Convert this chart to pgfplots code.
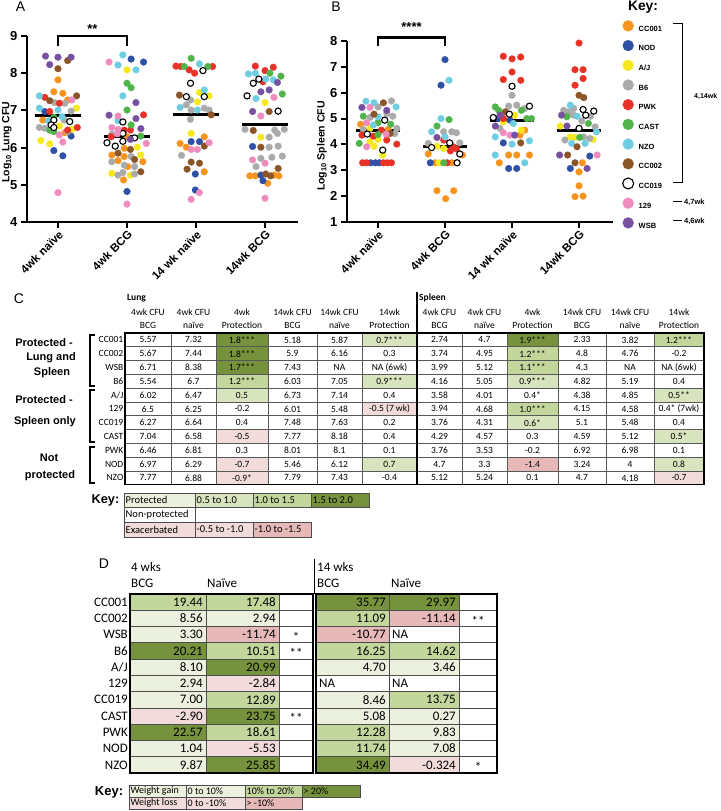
\documentclass[border=0pt]{standalone}
\usepackage{pgfplots}
\pgfplotsset{compat=1.18}
\usepackage{fontspec}
\setmainfont{Liberation Sans}
\newfontfamily\calf{Carlito}
\definecolor{cCC001}{RGB}{247,148,29}
\definecolor{cNOD}{RGB}{46,80,165}
\definecolor{cAJ}{RGB}{245,233,30}
\definecolor{cB6}{RGB}{170,170,170}
\definecolor{cPWK}{RGB}{232,50,40}
\definecolor{cCAST}{RGB}{80,180,75}
\definecolor{cNZO}{RGB}{110,205,225}
\definecolor{cCC002}{RGB}{140,85,40}
\definecolor{c129}{RGB}{238,140,190}
\definecolor{cWSB}{RGB}{120,80,160}
\definecolor{gD}{RGB}{118,146,60}
\definecolor{gM}{RGB}{195,214,155}
\definecolor{gL}{RGB}{215,228,189}
\definecolor{gP}{RGB}{235,241,222}
\definecolor{pL}{RGB}{242,220,219}
\definecolor{pM}{RGB}{230,185,184}
\pgfplotsset{
 pt/.style={only marks, mark=*, mark size=3.4pt, color=#1, mark options={fill=#1, draw=#1, line width=0.2pt}},
 ptw/.style={only marks, mark=*, mark size=3.1pt, color=black, mark options={fill=white, draw=black, line width=1.1pt}},
 scat/.style={scale only axis, anchor=south west,
  axis lines=left, axis line style={line width=2pt,-},
  every tick/.style={black,line width=2pt}, major tick length=6pt, tick align=outside,
  xtick={0,1,2,3}, xticklabels={4wk naïve,4wk BCG,14 wk naïve,14wk BCG},
  xticklabel style={rotate=45, anchor=north east, font=\bfseries\fontsize{11.5}{12}\selectfont, inner sep=1pt},
  yticklabel style={font=\bfseries\fontsize{13}{13}\selectfont},
  /pgf/number format/assume math mode=true,
  clip=false},
}
\def\CX{{125,171,216,268,317,362,417,462,507,558,606,654,704}}
\def\DX{{130,206,279,313,316,389,459,497}}
\newcommand\colC[1]{\pgfmathsetmacro\xa{\CX[#1-1]}\pgfmathsetmacro\xb{\CX[#1]}\pgfmathsetmacro\xc{0.5*\xa+0.5*\xb}}
\newcommand\colD[1]{\pgfmathsetmacro\xa{\DX[#1]}\pgfmathsetmacro\xb{\DX[#1+1]}\pgfmathsetmacro\xc{0.5*\xa+0.5*\xb}}
\newcommand\cc[3]{\colC{#1}%
  \node[font=\calf\fontsize{9.5}{10}\selectfont, inner sep=0pt] at (\xc,{471.1-13.8*#2}) {#3};}
\newcommand\dc[3]{\colD{#1}%
  \node[font=\calf\fontsize{13}{13}\selectfont, inner sep=0pt, anchor=east] at ({\xb-3},{217-16.27*(#2+0.5)}) {#3};}
\newcommand\dn[2]{\colD{#1}%
  \node[font=\calf\fontsize{13}{13}\selectfont, inner sep=0pt, anchor=west] at ({\xa+3},{217-16.27*(#2+0.5)}) {NA};}
\newcommand\ds[3]{\colD{#1}%
  \node[font=\calf\fontsize{13}{13}\selectfont, inner sep=0pt] at (\xc,{217-16.27*(#2+0.5)-2}) {#3};}
\begin{document}
\begin{tikzpicture}[x=1pt,y=1pt]
\path[use as bounding box] (0,0) rectangle (720,811);
\node[font=\fontsize{14}{14}\selectfont] at (20.5,804) {A};
\node[font=\fontsize{14}{14}\selectfont] at (336,804) {B};
\node[font=\fontsize{14}{14}\selectfont] at (19,512) {C};
\node[font=\fontsize{14}{14}\selectfont] at (104,247) {D};
% ---------------- Panel A
\begin{axis}[scat, at={(27pt,589pt)}, width=271pt, height=186pt,
  xmin=-0.449, xmax=3.478, ymin=4, ymax=9, ytick={4,5,6,7,8,9},
  ylabel={Log\textsubscript{10} Lung CFU},
  ylabel style={font=\bfseries\fontsize{10.5}{12}\selectfont, at={(axis description cs:-0.074,0.43)}, anchor=center, rotate=0}]
\addplot[pt=cCC001] coordinates {(0,7.82)(-0.06,7.50)(0.07,7.46)(0.14,7.28)(-0.22,6.74)(0.10,6.40)
 (1,6.29)(0.96,5.98)(0.78,5.80)(0.96,5.76)(0.87,5.65)(1.01,5.49)(1.23,5.62)(0.95,5.13)
 (1.77,6.11)(2.12,6.29)(1.86,6.01)(2.12,5.35)
 (2.78,5.24)(2.86,5.24)(3.13,5.26)(3.20,5.24)(3.04,5.04)};
\addplot[pt=cNOD] coordinates {(-0.19,6.97)(0.19,6.31)(-0.06,5.92)(0.07,5.78)
 (1.06,8.38)(1.24,8.30)(1,4.82)
 (1.93,6.16)(2.05,6.16)(1.99,5.29)(1.99,4.86)
 (2.82,6.03)(2.94,5.26)(2.97,5.11)};
\addplot[pt=cAJ] coordinates {(0.27,7.06)(0.02,6.58)(0.20,6.49)(-0.25,6.19)(-0.12,6.10)
 (1,8.09)(1.15,6.01)(1.20,5.80)(0.78,5.31)(1.05,5.26)
 (2.05,7.48)(2.19,7.39)(2.02,7.23)(1.93,6.38)
 (3,7.21)(2.94,6.28)};
\addplot[pt=cB6] coordinates {(-0.05,7.21)(0.10,7.19)(0.19,6.98)(0.09,6.74)(-0.27,6.54)(-0.19,6.52)(0.14,6.43)
 (0.78,6.36)(1.06,5.76)(0.78,5.62)(0.96,5.53)(1.11,5.49)(0.87,5.26)(0.94,5.33)(1.11,5.29)
 (1.92,7.28)(1.86,7.15)(1.93,7.01)(2.12,7.06)(2.19,7.01)(1.92,6.76)(1.79,5.79)
 (2.71,6.49)(3.14,6.47)(3.28,6.49)(3.06,6.28)(3.18,6.38)(3.06,6.01)(3.19,6.04)(3.25,5.77)(2.94,5.71)(3.10,5.74)(2.87,5.49)};
\addplot[pt=cPWK] coordinates {(-0.19,7.35)(0.02,7.19)(-0.12,6.97)(0.14,6.47)(0.28,6.54)
 (1.24,6.88)(0.96,6.47)(1.05,6.47)(0.77,6.29)
 (1.71,8.19)(1.78,8.18)(1.90,8.09)(1.98,8.00)(2.24,8.18)
 (2.86,8.19)(3,8.07)(3.12,8.16)(2.97,7.77)};
\addplot[pt=cCAST] coordinates {(-0.06,6.81)(-0.12,6.47)(-0.06,6.43)
 (1,7.73)(1.06,7.61)(1,7.01)(1.06,6.61)(1.20,6.31)
 (1.93,8.40)(1.83,8.18)(2.17,8.18)
 (3.07,8.00)(3.23,7.92)(3.25,7.44)};
\addplot[pt=cNZO] coordinates {(-0.27,7.39)(-0.27,7.06)(0,7.01)(0.06,6.83)(-0.14,6.72)
 (0.94,8.49)(0.87,8.22)(1.13,8.09)(0.94,7.39)(0.87,6.72)
 (2.05,8.25)(2.12,7.55)(1.77,7.08)(2.02,7.01)
 (2.76,7.98)(2.86,8.00)(3.01,7.84)(3.12,7.82)(2.87,7.32)};
\addplot[pt=cCC002] coordinates {(0.14,8.34)(0,8.12)(-0.12,7.26)(0.27,7.39)
 (1.05,5.95)(0.87,5.85)(1.11,5.68)(1.20,5.35)
 (1.76,7.41)(2.22,6.88)(2.12,6.04)(1.93,5.61)(2.05,5.58)(1.87,5.42)
 (3.06,6.97)(2.83,6.46)(2.94,6.01)(3.19,5.44)(3.01,5.29)(3.08,5.24)};
\addplot[ptw] coordinates {(-0.06,6.74)(0.17,6.70)(-0.10,6.61)(-0.06,6.54)
 (0.94,6.69)(0.94,6.38)(0.94,6.17)(1.11,6.26)(0.71,6.13)(0.83,6.04)
 (2.10,8.07)(1.92,7.73)(1.86,7.37)(2.12,7.37)
 (2.91,7.84)(2.83,7.73)(2.74,7.39)(3.19,6.98)};
\addplot[pt=c129] coordinates {(0.20,7.28)(0.02,6.34)(0.07,6.15)(0,4.79)
 (0.74,8.30)(0.87,6.85)(0.78,6.54)(0.87,6.49)(0.86,6.37)(1.28,6.11)(1,4.48)
 (2.19,6.13)(1.93,5.95)(2.02,5.95)(2.05,4.79)(1.93,4.61)
 (3.13,7.35)(2.94,6.85)(2.82,5.67)(3,5.58)(3,4.64)};
\addplot[pt=cWSB] coordinates {(-0.18,8.46)(0,8.43)(0.19,8.43)(-0.12,8.23)
 (1.13,7.21)(0.74,6.87)(1.13,6.78)(1.20,6.51)(1.05,6.22)
 (3.18,7.75)(2.94,7.50)(3.06,7.55)(2.82,6.97)};
\addplot[black, line width=3pt, forget plot] coordinates {(-0.33,6.86)(0.33,6.86)};
\addplot[black, line width=3pt, forget plot] coordinates {(0.67,6.31)(1.33,6.31)};
\addplot[black, line width=3pt, forget plot] coordinates {(1.67,6.88)(2.33,6.88)};
\addplot[black, line width=3pt, forget plot] coordinates {(2.67,6.63)(3.33,6.63)};
\addplot[black, line width=2.5pt, forget plot] coordinates {(0,8.72)(0,9)(1,9)(1,8.72)};
\node[font=\bfseries\fontsize{13}{13}\selectfont] at (axis cs:0.5,9.2) {**};
\end{axis}
% ---------------- Panel B
\begin{axis}[scat, at={(347pt,589pt)}, width=266pt, height=181pt,
  xmin=-0.463, xmax=3.507, ymin=1, ymax=8, ytick={1,2,3,4,5,6,7,8},
  ylabel={Log\textsubscript{10} Spleen CFU},
  ylabel style={font=\bfseries\fontsize{10.5}{12}\selectfont, at={(axis description cs:-0.094,0.42)}, anchor=center, rotate=0},
  legend style={at={(1.0357,1.115)}, anchor=north west, draw=none, fill=none,
   font=\bfseries\fontsize{7.5}{8}\selectfont, row sep=8.0pt, column sep=5pt, inner sep=0pt,
   nodes={inner sep=0pt, text height=6pt, text depth=1pt}},
  legend cell align=left,
  legend image code/.code={\draw[#1, mark size=5.5pt] plot coordinates {(0pt,2.7pt)};}]
\addplot[pt=cCC001] coordinates {(-0.26,4.78)(0.15,4.58)
 (0.75,3.63)(1.26,3.59)(0.85,3.29)(1.10,3.29)(0.88,2.21)(1.01,1.90)(1.13,2.21)
 (2.12,4.36)(2.19,4.55)(1.95,3.59)(2.07,3.59)(2.26,3.59)(1.81,3.29)
 (3.05,3.29)(3,2.94)(3,2.40)(2.94,1.98)(3.06,2.00)};
\addlegendentry{CC001}
\addplot[pt=cNOD] coordinates {(-0.11,3.29)(-0.04,3.29)(0.02,3.29)
 (1,7.28)(0.94,6.29)(0.78,3.29)
 (1.80,5.00)(1.97,4.94)(1.87,4.06)(1.95,3.07)(2.07,3.07)
 (3.16,3.55)(2.87,3.07)};
\addlegendentry{NOD}
\addplot[pt=cAJ] coordinates {(-0.12,4.62)(-0.12,4.10)(0,4.19)(-0.06,3.93)(0.07,3.59)
 (0.88,3.93)(0.98,3.84)(0.91,3.29)
 (2.04,5.13)(1.87,4.87)(2.14,4.55)
 (2.72,4.71)(2.87,4.29)(2.94,4.27)(3.21,4.19)};
\addlegendentry{A/J}
\addplot[pt=cB6] coordinates {(0.20,5.68)(0,5.45)(-0.12,5.04)(0.13,5.20)(0.22,5.09)(-0.22,4.58)(0.28,4.62)(0.25,4.42)
 (0.98,4.49)(1.10,4.49)(1.17,4.45)(0.75,4.04)(1.22,4.06)
 (1.95,5.48)(2.07,5.52)(2.19,5.39)(2,5.90)(1.82,4.62)
 (2.77,5.32)(2.84,5.26)(2.92,5.39)(2.92,5.13)(3.17,5.09)(3.04,4.91)(3.24,4.68)(3.07,4.29)(2.79,4.17)(3.16,4.23)};
\addlegendentry{B6}
\addplot[pt=cPWK] coordinates {(0.05,4.55)(-0.24,4.36)(-0.07,4.32)(0.13,4.17)(0.28,4.01)(-0.23,3.29)(-0.17,3.29)(0.08,3.29)(0.14,3.29)(0.20,3.29)
 (0.98,4.17)(1.12,3.91)(1.08,3.75)(1.17,3.83)(1.03,3.29)
 (1.87,7.41)(2,7.31)(2.13,7.38)(2,6.80)(1.87,6.51)(2.13,6.48)(1.87,5.00)
 (3,7.92)(2.94,6.89)(3.06,6.89)(3.06,6.55)(2.94,6.29)};
\addlegendentry{PWK}
\addplot[pt=cCAST] coordinates {(-0.22,5.09)(0,4.84)(0.19,4.78)(0,4.38)(-0.28,4.04)
 (1.06,4.96)(0.88,4.71)(0.98,3.29)
 (1.75,5.45)(1.80,5.32)(2.14,5.32)(2.22,5.00)(2.29,5.00)
 (2.82,5.07)(3.14,4.81)(3.01,4.27)};
\addlegendentry{CAST}
\addplot[pt=cNZO] coordinates {(-0.18,5.67)(-0.06,5.61)(0.27,5.45)(0,5.07)(-0.07,4.75)
 (1.06,6.48)(0.94,5.00)(0.80,4.49)(1,4.29)
 (2.02,4.81)(1.75,4.29)(2,4.01)(2.26,4.14)(1.75,3.59)(2.19,3.29)
 (2.87,5.52)(2.97,5.09)(3.26,4.49)(2.89,4.04)(3.09,4.04)};
\addlegendentry{NZO}
\addplot[pt=cCC002] coordinates {(0.08,5.61)(-0.06,5.17)(0.18,4.42)
 (1.90,5.26)(2.13,4.06)
 (3,5.90)(3.07,5.81)(2.97,3.91)(2.83,3.59)(2.94,3.29)};
\addlegendentry{CC002}
\addplot[ptw] coordinates {(0.10,4.94)(-0.16,4.40)(0.07,3.78)
 (1.07,4.06)(0.80,3.88)(1.22,3.63)(1.18,3.29)
 (2,6.25)(2.26,5.48)(1.72,5.04)(1.96,5.17)
 (3.06,5.35)(3.22,5.29)(3.10,5.13)(3,4.62)};
\addlegendentry{CC019}
\addplot[pt=c129] coordinates {(-0.12,5.43)(-0.17,4.84)(0.12,4.40)(-0.17,3.91)
 (1.87,4.45)(1.97,4.36)
 (3.27,3.59)};
\addlegendentry{129}
\addplot[pt=cWSB] coordinates {(-0.24,5.43)(0.13,5.32)
 (0.88,4.27)
 (1.82,5.13)(1.75,4.71)(2.04,4.36)
 (2.74,5.13)(2.82,4.71)(2.71,3.59)(3.12,3.07)};
\addlegendentry{WSB}
\addplot[black, line width=3pt, forget plot] coordinates {(-0.33,4.55)(0.33,4.55)};
\addplot[black, line width=3pt, forget plot] coordinates {(0.67,3.93)(1.33,3.93)};
\addplot[black, line width=3pt, forget plot] coordinates {(1.67,4.91)(2.33,4.91)};
\addplot[black, line width=3pt, forget plot] coordinates {(2.67,4.55)(3.33,4.55)};
\addplot[black, line width=2.5pt, forget plot] coordinates {(0,7.80)(0,8.14)(1,8.14)(1,7.80)};
\node[font=\bfseries\fontsize{13}{13}\selectfont] at (axis cs:0.5,8.55) {****};
\end{axis}
% key of panels A/B
\node[font=\bfseries\fontsize{13.8}{14}\selectfont] at (643,804) {Key:};
\draw[line width=1pt] (673,787) -- (682,787) -- (682,628) -- (673,628);
\node[font=\bfseries\fontsize{7}{8}\selectfont, anchor=west, inner sep=0pt] at (694,714) {4,14wk};
\draw[line width=1pt] (673,609) -- (682,609);
\node[font=\bfseries\fontsize{7.5}{8}\selectfont, anchor=west, inner sep=0pt] at (684,609) {4,7wk};
\draw[line width=1pt] (673,590) -- (682,590);
\node[font=\bfseries\fontsize{7.5}{8}\selectfont, anchor=west, inner sep=0pt] at (684,590) {4,6wk};
% ---------------- Panel C table
\foreach \c/\r/\col in {3/0/gD,3/1/gD,3/2/gD,3/3/gM,3/4/gL,3/7/pL,3/9/pL,3/10/pL,
  6/0/gL,6/3/gL,6/5/pL,6/9/gL,
  9/0/gD,9/1/gM,9/2/gM,9/3/gL,9/5/gM,9/6/gL,9/9/pM,
  12/0/gM,12/4/gL,12/7/gL,12/9/gL,12/10/pL}{
  \colC{\c}
  \fill[\col] (\xa,{478-13.8*\r}) rectangle (\xb,{464.2-13.8*\r});
}
\foreach \r in {1,...,10}{\draw[black!65, line width=0.6pt] (125,{478-13.8*\r}) -- (704,{478-13.8*\r});}
\foreach \c in {1,2,3,4,5,7,8,9,10,11}{
  \colC{\c}
  \draw[black!65, line width=0.6pt] (\xb,478) -- (\xb,326.2);}
\draw[line width=1.1pt] (125,478) rectangle (704,326.2);
\draw[line width=1.5pt] (417,519) -- (417,326.2);
\node[font=\calf\bfseries\fontsize{9.5}{10}\selectfont, anchor=west, inner sep=0pt] at (127,513) {Lung};
\node[font=\calf\bfseries\fontsize{9.5}{10}\selectfont, anchor=west, inner sep=0pt] at (419,513) {Spleen};
\foreach \k/\ta/\tb in {1/4wk CFU/BCG,2/4wk CFU/naïve,3/4wk/Protection,4/14wk CFU/BCG,5/14wk CFU/naïve,6/14wk/Protection,
  7/4wk CFU/BCG,8/4wk CFU/naïve,9/4wk/Protection,10/14wk CFU/BCG,11/14wk CFU/naïve,12/14wk/Protection}{
  \colC{\k}
  \node[font=\calf\fontsize{9.5}{10}\selectfont, inner sep=0pt] at (\xc,499) {\ta};
  \node[font=\calf\fontsize{9.5}{10}\selectfont, inner sep=0pt] at (\xc,486) {\tb};
}
\foreach \r/\nm/\Va/\Vb/\Vc/\Vd/\Ve/\Vf/\Vg/\Vh/\Vi/\Vj/\Vk/\Vl in {
 0/CC001/5.57/7.32/1.8***/5.18/5.87/0.7***/2.74/4.7/1.9***/2.33/3.82/1.2***,
 1/CC002/5.67/7.44/1.8***/5.9/6.16/0.3/3.74/4.95/1.2***/4.8/4.76/-0.2,
 2/WSB/6.71/8.38/1.7***/7.43/NA/{NA (6wk)}/3.99/5.12/1.1***/4.3/NA/{NA (6wk)},
 3/B6/5.54/6.7/1.2***/6.03/7.05/0.9***/4.16/5.05/0.9***/4.82/5.19/0.4,
 4/A\slash J/6.02/6.47/0.5/6.73/7.14/0.4/3.58/4.01/0.4*/4.38/4.85/0.5**,
 5/129/6.5/6.25/-0.2/6.01/5.48/{-0.5 (7 wk)}/3.94/4.68/1.0***/4.15/4.58/{0.4* (7wk)},
 6/CC019/6.27/6.64/0.4/7.48/7.63/0.2/3.76/4.31/0.6*/5.1/5.48/0.4,
 7/CAST/7.04/6.58/-0.5/7.77/8.18/0.4/4.29/4.57/0.3/4.59/5.12/0.5*,
 8/PWK/6.46/6.81/0.3/8.01/8.1/0.1/3.76/3.53/-0.2/6.92/6.98/0.1,
 9/NOD/6.97/6.29/-0.7/5.46/6.12/0.7/4.7/3.3/-1.4/3.24/4/0.8,
 10/NZO/7.77/6.88/-0.9*/7.79/7.43/-0.4/5.12/5.24/0.1/4.7/4.18/-0.7}{
 \node[font=\calf\fontsize{9.5}{10}\selectfont, inner sep=0pt, anchor=east] at (123.5,{471.1-13.8*\r}) {\nm};
 \cc{1}{\r}{\Va}\cc{2}{\r}{\Vb}\cc{3}{\r}{\Vc}\cc{4}{\r}{\Vd}\cc{5}{\r}{\Ve}\cc{6}{\r}{\Vf}
 \cc{7}{\r}{\Vg}\cc{8}{\r}{\Vh}\cc{9}{\r}{\Vi}\cc{10}{\r}{\Vj}\cc{11}{\r}{\Vk}\cc{12}{\r}{\Vl}
}
% group labels
\foreach \xx/\yy/\tt in {44/468/Protected -,51/453/Lung and,52/438/Spleen,44/411/Protected -,45/389/Spleen only,49/353/Not,50/335/protected}{
  \node[font=\bfseries\fontsize{11}{11}\selectfont, inner sep=0pt] at (\xx,\yy) {\tt};}
\draw[line width=1.4pt] (95,476) -- (90,476) -- (90,425) -- (95,425);
\draw[line width=1.4pt] (95,421) -- (90,421) -- (90,369) -- (95,369);
\draw[line width=1.4pt] (95,364) -- (90,364) -- (90,328) -- (95,328);
% key C
\node[font=\bfseries\fontsize{12.8}{13}\selectfont] at (105.5,311) {Key:};
\foreach \xa/\xb/\ya/\yb/\col/\tx in {124/195/318/304/gP/Protected,195/253/318/304/gL/0.5 to 1.0,253/311/318/304/gM/1.0 to 1.5,311/369/318/304/gD/1.5 to 2.0,
  124/195/304/289/white/Non-protected,
  124/195/289/274/pL/Exacerbated,195/253/289/274/pL/-0.5 to -1.0,253/311/289/274/pM/-1.0 to -1.5}{
  \draw[black!70, line width=0.6pt, fill=\col] (\xa,\ya) rectangle (\xb,\yb);
  \node[font=\calf\fontsize{10.5}{11}\selectfont, anchor=west, inner sep=0pt] at ({\xa+1.5},{(\ya+\yb)/2}) {\tx};
}
% ---------------- Panel D table
\foreach \c/\r/\col in {0/0/gM,1/0/gM,4/0/gD,5/0/gD,
 0/1/gP,1/1/gP,4/1/gM,5/1/pM,
 0/2/gP,1/2/pM,4/2/pM,
 0/3/gD,1/3/gM,4/3/gM,5/3/gM,
 0/4/gP,1/4/gD,4/4/gP,5/4/gP,
 0/5/gP,1/5/pL,
 0/6/gP,1/6/gM,4/6/gP,5/6/gM,
 0/7/pL,1/7/gD,4/7/gP,5/7/gP,
 0/8/gD,1/8/gM,4/8/gM,5/8/gP,
 0/9/gP,1/9/pL,4/9/gM,5/9/gP,
 0/10/gP,1/10/gD,4/10/gD,5/10/pL}{
  \colD{\c}
  \fill[\col] (\xa,{217-16.27*\r}) rectangle (\xb,{217-16.27*(\r+1)});
}
\foreach \r in {1,...,10}{
  \draw[black!70, line width=0.7pt] (130,{217-16.27*\r}) -- (313,{217-16.27*\r});
  \draw[black!70, line width=0.7pt] (316,{217-16.27*\r}) -- (497,{217-16.27*\r});}
\foreach \xx in {206,279,389,459}{\draw[black!70, line width=0.7pt] (\xx,217) -- (\xx,38);}
\draw[line width=1.6pt] (130,217) rectangle (313,38);
\draw[line width=1.6pt] (316,217) rectangle (497,38);
\draw[line width=1.6pt] (314.5,252) -- (314.5,217);
\foreach \xx/\yy/\tt in {131/244/4 wks,131/228/BCG,207/228/Naïve,317/244/14 wks,317/228/BCG,391/228/Naïve}{
  \node[font=\calf\fontsize{13}{13}\selectfont, anchor=west, inner sep=0pt] at (\xx,\yy) {\tt};}
\foreach \r/\nm in {0/CC001,1/CC002,2/WSB,3/B6,4/A\slash J,5/129,6/CC019,7/CAST,8/PWK,9/NOD,10/NZO}{
  \node[font=\calf\fontsize{13}{13}\selectfont, anchor=east, inner sep=0pt] at (128,{217-16.27*(\r+0.5)}) {\nm};}
\dc{0}{0}{19.44}\dc{1}{0}{17.48}\dc{4}{0}{35.77}\dc{5}{0}{29.97}
\dc{0}{1}{8.56}\dc{1}{1}{2.94}\dc{4}{1}{11.09}\dc{5}{1}{-11.14}\ds{6}{1}{**}
\dc{0}{2}{3.30}\dc{1}{2}{-11.74}\ds{2}{2}{*}\dc{4}{2}{-10.77}\dn{5}{2}
\dc{0}{3}{20.21}\dc{1}{3}{10.51}\ds{2}{3}{**}\dc{4}{3}{16.25}\dc{5}{3}{14.62}
\dc{0}{4}{8.10}\dc{1}{4}{20.99}\dc{4}{4}{4.70}\dc{5}{4}{3.46}
\dc{0}{5}{2.94}\dc{1}{5}{-2.84}\dn{4}{5}\dn{5}{5}
\dc{0}{6}{7.00}\dc{1}{6}{12.89}\dc{4}{6}{8.46}\dc{5}{6}{13.75}
\dc{0}{7}{-2.90}\dc{1}{7}{23.75}\ds{2}{7}{**}\dc{4}{7}{5.08}\dc{5}{7}{0.27}
\dc{0}{8}{22.57}\dc{1}{8}{18.61}\dc{4}{8}{12.28}\dc{5}{8}{9.83}
\dc{0}{9}{1.04}\dc{1}{9}{-5.53}\dc{4}{9}{11.74}\dc{5}{9}{7.08}
\dc{0}{10}{9.87}\dc{1}{10}{25.85}\dc{4}{10}{34.49}\dc{5}{10}{-0.324}\ds{6}{10}{*}
% key D
\node[font=\bfseries\fontsize{13}{13}\selectfont] at (109,19) {Key:};
\foreach \xa/\xb/\ya/\yb/\col/\tx in {129/186/26/14/gP/Weight gain,186/245/26/14/gP/0 to 10\%,245/302/26/14/gM/10\% to 20\%,302/360/26/14/gD/> 20\%,
  129/186/14/2/pL/Weight loss,186/245/14/2/pL/0 to -10\%,245/302/14/2/pM/> -10\%}{
  \draw[black!70, line width=0.6pt, fill=\col] (\xa,\ya) rectangle (\xb,\yb);
  \node[font=\calf\fontsize{10}{10}\selectfont, anchor=west, inner sep=0pt] at ({\xa+1.5},{(\ya+\yb)/2}) {\tx};
}
\end{tikzpicture}
\end{document}
